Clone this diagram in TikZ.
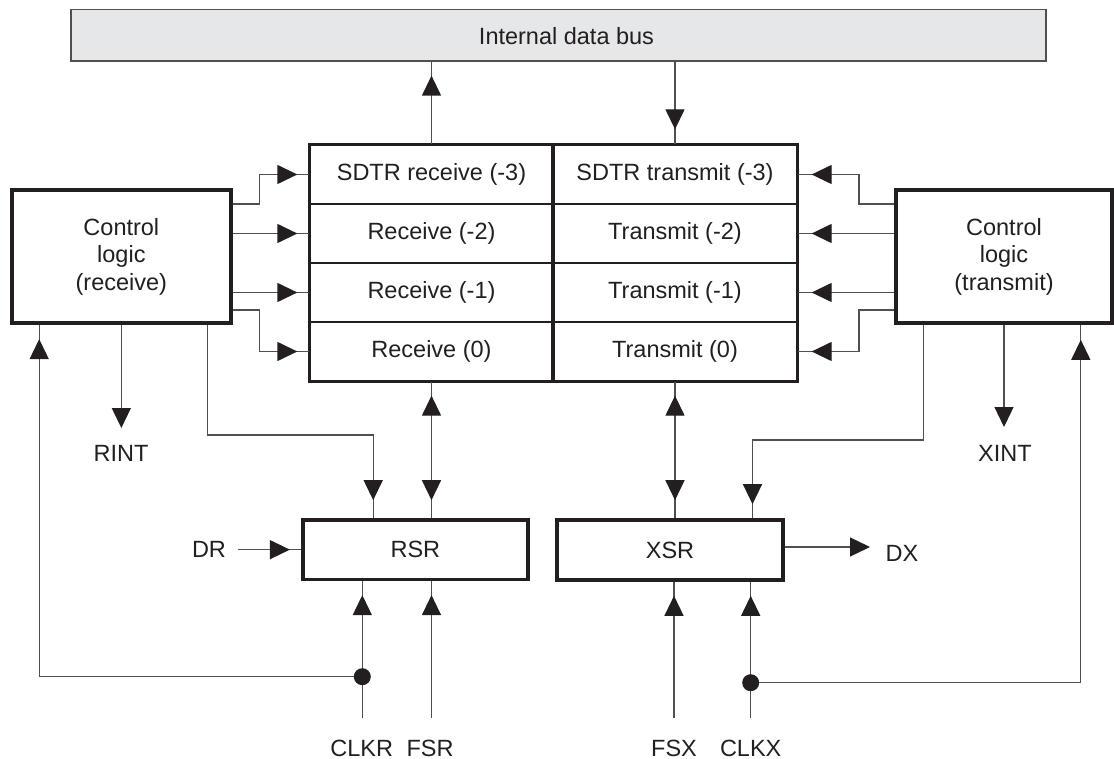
\documentclass[tikz,border=0pt]{standalone}
\usepackage{fontspec}
\setmainfont{Liberation Sans}
\usetikzlibrary{arrows.meta,decorations.markings,calc}
\definecolor{ink}{HTML}{231F20}
\definecolor{wire}{HTML}{505050}
\definecolor{busfill}{HTML}{E6E7E8}
\begin{document}
\begin{tikzpicture}[x=1pt,y=-1pt,
  font=\fontsize{23.5}{27.5}\selectfont, text=ink,
  wire/.style={draw=wire,line width=1.3pt},
  tip/.style={postaction={decorate,decoration={markings,mark=at position #1 with {\arrow{Triangle[length=20pt,width=19pt,color=ink,fill=ink]}}}}},
  rtip/.style={postaction={decorate,decoration={markings,mark=at position #1 with {\arrowreversed{Triangle[length=20pt,width=19pt,color=ink,fill=ink]}}}}},
  endtip/.style={-{Triangle[length=20pt,width=19pt,color=ink,fill=ink]}},
  cell/.style={draw=ink,line width=1.3pt,minimum width=243pt,minimum height=59pt,inner sep=0pt},
  tcell/.style={cell,minimum width=244pt},
  thickbox/.style={draw=ink,line width=3.6pt},
  ctl/.style={draw=ink,line width=3.6pt,inner sep=0pt,align=center,fill=white},
  dot/.style={circle,fill=ink,minimum size=17pt,inner sep=0pt}
]
\useasboundingbox (0,0) rectangle (1114,759);

% internal data bus
\node[draw=wire,fill=busfill,line width=1.3pt,minimum width=975pt,minimum height=51.5pt,inner sep=0pt] (bus) at (558.5,35.25) {};
\node (buslabel) at (566.5,36) {Internal data bus};

% register cells
\node[cell] (r3) at (431.5,174.5) {SDTR receive (-3)};
\node[cell] (r2) at (431.5,233.5) {Receive (-2)};
\node[cell] (r1) at (431.5,292.5) {Receive (-1)};
\node[cell] (r0) at (431.5,351.5) {Receive (0)};
\node[tcell] (t3) at (675,174.5) {SDTR transmit (-3)};
\node[tcell] (t2) at (675,233.5) {Transmit (-2)};
\node[tcell] (t1) at (675,292.5) {Transmit (-1)};
\node[tcell] (t0) at (675,351.5) {Transmit (0)};
\draw[thickbox] (r3.north west) rectangle (r0.south east);
\draw[thickbox] (t3.north west) rectangle (t0.south east);

% control logic
\node[ctl,minimum width=219.3pt,minimum height=133.3pt] (cl) at (121.35,256.65) {Control\\logic\\(receive)};
\node[ctl,minimum width=216pt,minimum height=133.3pt] (ct) at (1004,256.65) {Control\\logic\\(transmit)};

% shift registers
\node[ctl,minimum width=225.3pt,minimum height=59.3pt] (rsr) at (415.35,549.65) {RSR};
\node[ctl,minimum width=226pt,minimum height=60pt] (xsr) at (670,550) {XSR};

% bus connections
\draw[wire,tip=-14pt] (r3.north) -- (r3.north |- bus.south);
\draw[wire,tip=-15pt] (t3.north |- bus.south) -- (t3.north);

% receive control -> register
\draw[wire,tip=-12pt] ($(cl.north east)+(0,15.7)$) -- ++(27,0) |- (r3.west);
\draw[wire,tip=-12pt] (cl.east |- r2.west) -- (r2.west);
\draw[wire,tip=-12pt] (cl.east |- r1.west) -- (r1.west);
\draw[wire,tip=-12pt] ($(cl.south east)+(0,-15)$) -- ++(27,0) |- (r0.west);

% transmit control -> register
\draw[wire,tip=-14pt] ($(ct.north west)+(0,15.7)$) -- ++(-35.3,0) |- (t3.east);
\draw[wire,tip=-14pt] (ct.west |- t2.east) -- (t2.east);
\draw[wire,tip=-14pt] (ct.west |- t1.east) -- (t1.east);
\draw[wire,tip=-14pt] ($(ct.south west)+(0,-15)$) -- ++(-35.3,0) |- (t0.east);

% RINT / XINT
\coordinate (rintc) at (121.35,428);
\node (rint) at (121,453) {RINT};
\draw[wire,endtip] (cl.south) -- (rintc);
\coordinate (xintc) at (1004,427);
\node (xint) at (1005,453.3) {XINT};
\draw[wire,endtip] (ct.south) -- (xintc);

% control -> shift registers
\draw[wire,tip=-18pt] ($(cl.south west)+(197.6,0)$) -- ++(0,110) -| ($(rsr.north west)+(72.3,0)$);
\draw[wire,tip=-14pt] ($(ct.south west)+(29,0)$) -- ++(0,115) -| ($(xsr.north east)+(-32.3,0)$);

% register <-> shift registers
\draw[wire,rtip=14pt,tip=-18pt] (r0.south) -- (r0.south |- rsr.north);
\draw[wire,rtip=14pt,tip=-18pt] (t0.south) -- (t0.south |- xsr.north);

% DR / DX
\node (dr) at (209,549.3) {DR};
\coordinate (drc) at (237.7,549.65);
\draw[wire,tip=-11pt] (drc) -- (rsr.west);
\coordinate (dxc) at (870,547);
\draw[wire,endtip] (xsr.east |- dxc) -- (dxc);
\node (dx) at (902,553) {DX};

% receive clocks
\coordinate (clkrc) at (362.3,718);
\coordinate (fsrc) at (431.5,718);
\node (clkr) at (361.7,748) {CLKR};
\node (fsr) at (430,748) {FSR};
\draw[wire,tip=-14pt] (clkrc) -- (clkrc |- rsr.south);
\draw[wire,tip=-14pt] (fsrc) -- (fsrc |- rsr.south);
\node[dot] (dotl) at (362.3,676.7) {};
\draw[wire,tip=-14pt] (dotl) -| ($(cl.south west)+(29.3,0)$);

% transmit clocks
\coordinate (fsxc) at (674,718);
\coordinate (clkxc) at (750.7,718);
\node (fsx) at (674,748) {FSX};
\node (clkx) at (750.7,748) {CLKX};
\draw[wire,tip=-14pt] (fsxc) -- (fsxc |- xsr.south);
\draw[wire,tip=-14pt] (clkxc) -- (clkxc |- xsr.south);
\node[dot] (dotr) at (750.7,682.7) {};
\draw[wire,tip=-14.7pt] (dotr) -| ($(ct.south east)+(-33,0)$);
\end{tikzpicture}
\end{document}
